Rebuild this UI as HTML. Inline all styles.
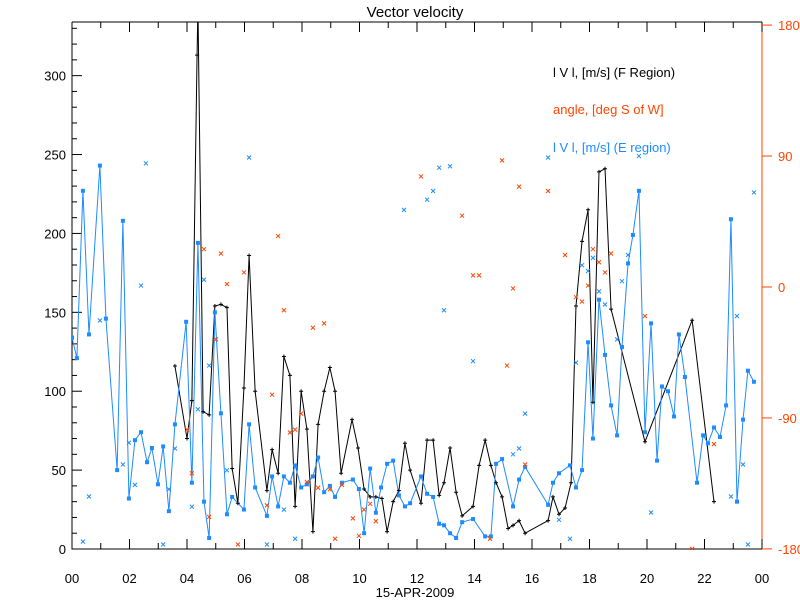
<!DOCTYPE html>
<html><head><meta charset="utf-8"><style>
body{margin:0;background:#fff}
svg{display:block;font-family:"Liberation Sans",sans-serif}
</style></head><body>
<svg id="chart" width="800" height="600" xmlns="http://www.w3.org/2000/svg">
<defs><clipPath id="clip"><rect x="72" y="22" width="690" height="528"/></clipPath></defs>
<rect width="800" height="600" fill="#fff"/>
<text x="415" y="17" font-size="15" text-anchor="middle">Vector velocity</text>
<g id="axes"></g>
<g id="marks" clip-path="url(#clip)"></g>
<text x="553" y="77" font-size="13" fill="#000">l V l, [m/s] (F Region)</text>
<text x="553" y="114" font-size="13" fill="#ff4500">angle, [deg S of W]</text>
<text x="553" y="152" font-size="13" fill="#1e8cff">l V l, [m/s] (E region)</text>
<text x="415" y="597" font-size="13" text-anchor="middle">15-APR-2009</text>
</svg>
<script>
const fT=[3.58,4.00,4.17,4.35,4.38,4.56,4.77,4.97,5.18,5.39,5.57,5.77,5.98,6.16,6.37,6.78,6.96,7.17,7.37,7.58,7.76,7.97,8.17,8.38,8.56,8.77,8.97,9.15,9.36,9.74,9.95,10.16,10.37,10.57,10.78,10.96,11.17,11.37,11.58,11.76,12.14,12.35,12.56,12.77,12.94,13.15,13.36,13.57,13.95,14.16,14.37,14.57,14.75,14.96,15.17,15.34,15.55,15.76,16.56,16.73,16.94,17.15,17.36,17.53,17.74,17.95,18.12,18.33,18.54,18.75,19.93,21.57,22.33];
const fV=[116,70,94,313,345,87,85,154,155,153,51,29,102,186,100,37,63,48,122,110,27,100,76,11,79,100,115,100,48,82,64,38,33,33,32,11,30,37,67,50,29,69,69,34,42,64,36,21,27,53,69,53,42,33,13,15,18,10,18,33,22,26,42,154,195,215,93,239,241,152,68,145,30];
const eT=[0.00,0.17,0.38,0.59,0.97,1.18,1.57,1.77,1.98,2.19,2.40,2.61,2.78,2.99,3.17,3.37,3.58,3.97,4.17,4.38,4.59,4.77,4.97,5.18,5.39,5.57,5.98,6.16,6.37,6.78,6.96,7.17,7.37,7.58,7.76,7.97,8.17,8.38,8.56,8.77,8.97,9.15,9.39,9.77,9.98,10.16,10.37,10.57,10.75,10.96,11.17,11.37,11.58,11.76,12.14,12.35,12.56,12.77,12.94,13.15,13.36,13.57,13.95,14.37,14.57,14.75,14.96,15.34,15.55,15.76,16.56,16.73,16.94,17.32,17.53,17.74,17.95,18.12,18.33,18.54,18.75,18.96,19.13,19.34,19.51,19.72,19.93,20.14,20.35,20.52,20.73,20.94,21.11,21.32,21.74,21.95,22.12,22.33,22.54,22.75,22.92,23.13,23.34,23.51,23.72];
const eV=[134,121,227,136,243,146,50,208,32,69,74,55,64,41,65,24,79,144,42,194,30,7,150,86,22,33,25,79,39,21,46,27,46,42,53,39,41,46,58,36,40,33,42,44,38,10,51,23,39,54,56,34,27,29,46,35,33,16,15,10,7,17,19,8,8,54,57,27,44,52,28,42,48,53,39,50,131,70,158,123,91,72,128,181,199,227,74,143,56,103,100,84,136,109,42,72,67,77,71,91,209,30,82,113,106];
const eaT=[0.38,0.59,0.97,1.77,1.98,2.19,2.40,2.57,3.17,3.37,3.58,4.17,4.38,4.59,4.77,5.39,6.16,6.78,7.37,7.76,11.55,12.35,12.56,12.77,13.15,12.94,13.95,15.34,15.55,15.76,16.56,16.94,17.32,17.53,17.74,17.95,18.12,18.33,18.54,18.96,19.13,19.34,19.72,20.14,22.92,23.13,23.34,23.51,23.72];
const eaD=[-175,-144,-23,-122,-107,-136,1,85,-177,-139,-111,-151,-84,5,-54,-126,89,-177,-153,-173,53,60,66,82,83,-16,-51,-115,-111,-87,89,-160,-173,-52,15,11,20,-3,-12,-36,4,22,90,-155,-144,-20,-122,-177,65];
const faT=[4.59,5.18,5.39,5.98,6.96,7.17,7.37,7.58,7.76,7.97,8.17,8.38,8.56,8.77,9.15,4.00,4.17,4.77,5.01,5.77,6.78,8.97,9.39,9.77,9.98,10.16,10.37,10.57,12.14,13.57,13.95,14.16,14.54,14.96,15.13,15.34,15.55,15.76,16.56,17.15,17.53,17.74,17.95,18.12,18.33,18.54,18.75,19.93,21.57,22.33];
const faD=[26,23,2,10,-74,35,-16,-100,-98,-87,-134,-28,-138,-25,-173,-98,-128,-158,-36,-177,-150,-139,-136,-159,-171,-153,-149,-161,76,49,8,8,-173,87,-54,-1,69,-122,66,22,-7,-10,1,26,17,10,23,-20,-180,-108];
const xTicks=['00','02','04','06','08','10','12','14','16','18','20','22','00'];
const yTicks=[0,50,100,150,200,250,300];
const rTicks=[-180,-90,0,90,180];

const L=72,R=762,T=22,B=549;
const X=t=>L+t*(R-L)/24;
const Y=v=>B-v*(B-T)/334;
const YA=d=>287-d*1.455;
const NS='http://www.w3.org/2000/svg';
function mk(tag,attrs,parent){const e=document.createElementNS(NS,tag);for(const k in attrs)e.setAttribute(k,attrs[k]);parent.appendChild(e);return e;}
const ax=document.getElementById('axes'),mg=document.getElementById('marks');
const frame=mk('path',{d:`M${L},${T}V${B}H${R}M${L},${T}H${R}`,stroke:'#000',fill:'none','stroke-width':1},ax);

const rax=mk('line',{x1:R,y1:T,x2:R,y2:B,stroke:'#ff4500'},ax);

for(let h=0;h<=24;h++){const x=X(h),len=h%2?6:10;
 mk('line',{x1:x,y1:B,x2:x,y2:B-len,stroke:'#000'},ax);mk('line',{x1:x,y1:T,x2:x,y2:T+len,stroke:'#000'},ax);}
xTicks.forEach((s,i)=>{const t=mk('text',{x:X(i*2),y:583,'font-size':13,'text-anchor':'middle'},ax);t.textContent=s;
 });
for(let v=0;v<=330;v+=10){const y=Y(v),len=v%50?5:10;mk('line',{x1:L,y1:y,x2:L+len,y2:y,stroke:'#000'},ax);}
yTicks.forEach(v=>{const t=mk('text',{x:L-6,y:Y(v)+5,'font-size':13,'text-anchor':'end'},ax);t.textContent=v;
 });
rTicks.forEach(d=>{const y=YA(d);mk('line',{x1:R,y1:y,x2:R+10,y2:y,stroke:'#ff4500'},ax);
 const t=mk('text',{x:R+16,y:y+5,'font-size':13,fill:'#ff4500'},ax);t.textContent=d;
 });
function line(T_,V_,col,name){const p=mk('polyline',{points:T_.map((t,i)=>X(t)+','+Y(V_[i])).join(' '),fill:'none',stroke:col,'stroke-width':1},mg);
 }
line(fT,fV,'#000','f-region-line');
line(eT,eV,'#1e8cff','e-region-line');
fT.forEach((t,i)=>{const x=X(t),y=Y(fV[i]);const p=mk('path',{d:`M${x-2},${y}H${x+2}M${x},${y-2}V${y+2}`,stroke:'#000'},mg);
 });
eT.forEach((t,i)=>{const r=mk('rect',{x:X(t)-2,y:Y(eV[i])-2,width:4,height:4,fill:'#1e8cff'},mg);
 });
function xs(T_,D_,col,name){T_.forEach((t,i)=>{const x=X(t),y=YA(D_[i]);
 const p=mk('path',{d:`M${x-2},${y-2}L${x+2},${y+2}M${x-2},${y+2}L${x+2},${y-2}`,stroke:col,'stroke-width':1},mg);
 });}
xs(eaT,eaD,'#1e8cff','e-angle-point');
xs(faT,faD,'#ff4500','f-angle-point');
</script>
</body></html>
